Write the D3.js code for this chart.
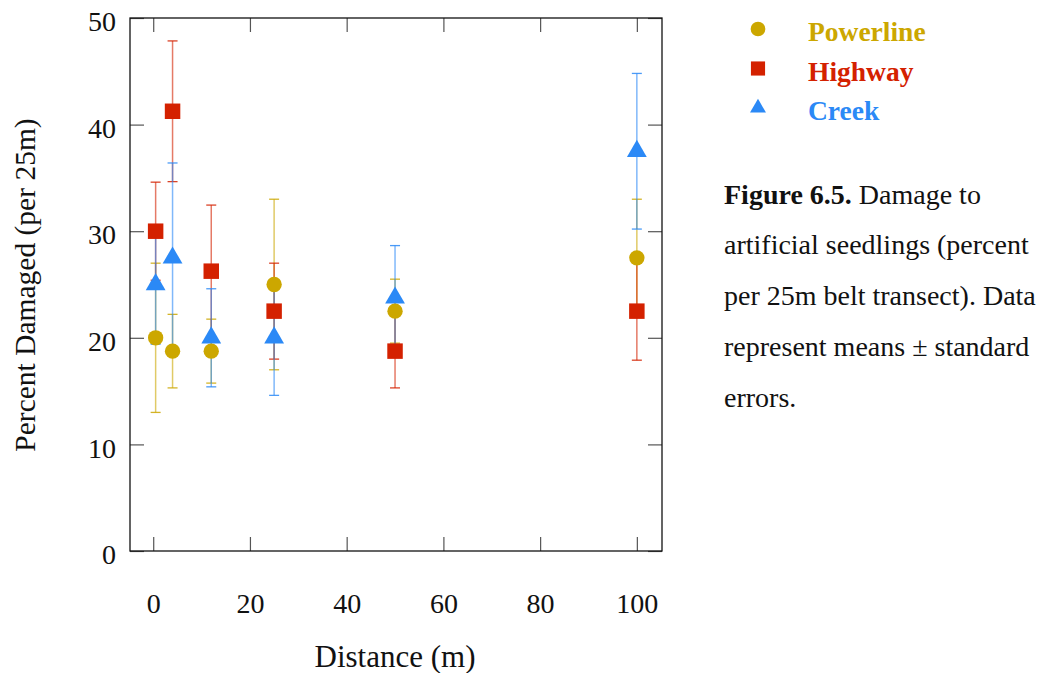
<!DOCTYPE html>
<html>
<head>
<meta charset="utf-8">
<script src="https://cdn.jsdelivr.net/npm/d3@7"></script>
<style>
  html, body { margin: 0; padding: 0; background: #fff; }
  svg { display: block; }
  text { font-family: "Liberation Serif", "Times New Roman", serif; }
</style>
</head>
<body>
<svg id="chart" width="1040" height="673"></svg>
<script>
// Distances sampled along each transect (m)
const distances = [0.5, 4, 12, 25, 50, 100];

// Mean percent damaged per 25m belt, with standard errors
const powerlineMean = [20, 18.75, 18.75, 25, 22.5, 27.5];
const powerlineErr  = [7, 3.45, 3.0, 8.0, 3.0, 5.5];
const highwayMean   = [30, 41.25, 26.25, 22.5, 18.75, 22.5];
const highwayErr    = [4.6, 6.6, 6.2, 4.5, 3.45, 4.6];
const creekMean     = [25, 27.5, 20, 20, 23.75, 37.5];
const creekErr      = [5.6, 8.9, 4.6, 5.4, 4.9, 7.3];

const seriesNames = ["Powerline", "Highway", "Creek"];
const xTicks = [0, 20, 40, 60, 80, 100];
const yTicks = [0, 10, 20, 30, 40, 50];

const captionLines = [
  [{t: "Figure 6.5.", b: true}, {t: " Damage to", b: false}],
  [{t: "artificial seedlings (percent", b: false}],
  [{t: "per 25m belt transect). Data", b: false}],
  [{t: "represent means \u00b1 standard", b: false}],
  [{t: "errors.", b: false}]
];

const colors = {Powerline: "#cca700", Highway: "#d42100", Creek: "#2b89f6"};
const shapes = {Powerline: d3.symbolCircle, Highway: d3.symbolSquare, Creek: d3.symbolTriangle};
const sizes  = {Powerline: 185, Highway: 240, Creek: 170};

const series = [
  {name: "Powerline", mean: powerlineMean, err: powerlineErr},
  {name: "Highway",   mean: highwayMean,   err: highwayErr},
  {name: "Creek",     mean: creekMean,     err: creekErr}
];

const svg = d3.select("#chart");
const plot = {left: 130, right: 662, top: 18, bottom: 551};
const serif = '"Liberation Serif", "Times New Roman", serif';

const x = d3.scaleLinear().domain([-4.8, 105.2]).range([plot.left, plot.right]);
const y = d3.scaleLinear().domain([0, 50]).range([plot.bottom, plot.top]);

// Inward ticks on all four sides
const tickLen = 14;
const axisStyle = g => {
  g.select(".domain").remove();
  g.selectAll(".tick line").attr("stroke", "#555").attr("stroke-width", 1.2);
  g.selectAll(".tick text")
    .style("font-family", serif)
    .style("font-size", "28px").attr("fill", "#111");
};

svg.append("g").attr("transform", `translate(0,${plot.bottom})`)
  .call(d3.axisBottom(x).tickValues(xTicks).tickSize(-tickLen).tickPadding(42))
  .call(axisStyle);
svg.append("g").attr("transform", `translate(0,${plot.top})`)
  .call(d3.axisTop(x).tickValues(xTicks).tickSize(-tickLen).tickFormat(""))
  .call(axisStyle);
svg.append("g").attr("transform", `translate(${plot.left},0)`)
  .call(d3.axisLeft(y).tickValues(yTicks).tickSize(-tickLen).tickPadding(14))
  .call(axisStyle)
  .call(g => g.selectAll(".tick text").attr("dy", "0.45em"));
svg.append("g").attr("transform", `translate(${plot.right},0)`)
  .call(d3.axisRight(y).tickValues(yTicks).tickSize(-tickLen).tickFormat(""))
  .call(axisStyle);

// Plot frame
svg.append("rect")
  .attr("x", plot.left).attr("y", plot.top)
  .attr("width", plot.right - plot.left).attr("height", plot.bottom - plot.top)
  .attr("fill", "none").attr("stroke", "#111").attr("stroke-width", 1.3);

// Error bars
const capHalf = 5;
series.forEach(s => {
  const g = svg.append("g").attr("class", "err-" + s.name);
  distances.forEach((d, i) => {
    const cx = x(d), hi = y(s.mean[i] + s.err[i]), lo = y(s.mean[i] - s.err[i]);
    g.append("line").attr("x1", cx).attr("x2", cx).attr("y1", hi).attr("y2", lo)
      .attr("stroke", colors[s.name]).attr("stroke-opacity", 0.6).attr("stroke-width", 1.5);
    [hi, lo].forEach(yy => {
      g.append("line").attr("x1", cx - capHalf).attr("x2", cx + capHalf)
        .attr("y1", yy).attr("y2", yy)
        .attr("stroke", colors[s.name]).attr("stroke-opacity", 0.85).attr("stroke-width", 1.3);
    });
  });
});

// Markers
["Creek", "Highway", "Powerline"].forEach(name => {
  const s = series.find(v => v.name === name);
  svg.append("g").selectAll("path").data(distances).join("path")
    .attr("d", d3.symbol().type(shapes[name]).size(sizes[name]))
    .attr("transform", (d, i) => `translate(${x(d)},${y(s.mean[i])})`)
    .attr("fill", colors[name]);
});

// Legend
const legend = svg.append("g");
seriesNames.forEach((name, i) => {
  const ly = 29 + i * 39.5;
  legend.append("path")
    .attr("d", d3.symbol().type(shapes[name]).size(name === "Creek" ? 110 : (name === "Highway" ? 200 : 170)))
    .attr("transform", `translate(758,${ly})`)
    .attr("fill", colors[name]);
  legend.append("text").attr("x", 808).attr("y", ly + 12)
    .attr("fill", colors[name]).attr("font-weight", "bold").attr("font-size", "27.5px")
    .text(name);
});

// Caption
const cap = svg.append("text").attr("font-size", "28px").attr("fill", "#111");
captionLines.forEach((line, i) => {
  const row = cap.append("tspan").attr("x", 724).attr("y", 203.5 + i * 50.8);
  line.forEach((seg, j) => {
    const sp = j === 0 ? row : cap.append("tspan");
    sp.text(seg.t).attr("font-weight", seg.b ? "bold" : "normal");
  });
});

// Axis titles
svg.append("text").attr("x", 395).attr("y", 667).attr("text-anchor", "middle")
  .attr("font-size", "31px").attr("fill", "#111").text("Distance (m)");
svg.append("text").attr("transform", "translate(35,285) rotate(-90)")
  .attr("text-anchor", "middle").attr("font-size", "29.5px").attr("fill", "#111")
  .text("Percent Damaged (per 25m)");
</script>
</body>
</html>
